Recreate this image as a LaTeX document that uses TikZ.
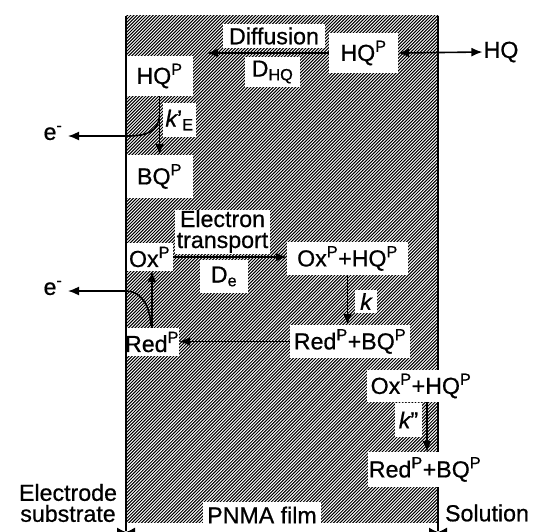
\documentclass[tikz,border=0pt]{standalone}
\usepackage{fontspec}
\setmainfont[FakeBold=0.7]{Liberation Sans}
\usetikzlibrary{arrows.meta}
\newcommand\dfont{\fontsize{23.2}{21}\selectfont}
\tikzset{
  wb/.style={fill=white, inner sep=0pt, align=center, font=\dfont},
  lbl/.style={inner sep=1pt, align=center, font=\dfont},
  arr/.style={line width=1.6pt, -{Latex[length=11pt,width=9pt]}},
  arrtwo/.style={line width=1.6pt, {Latex[length=11pt,width=9pt]}-{Latex[length=11pt,width=9pt]}},
  hatchline/.style={line width=1.0pt, black},
  edgeline/.style={line width=1.6pt, black},
  dimarrow/.style={line width=1pt, -{Latex[length=9pt,width=9pt]}},
  dimarrowtwo/.style={line width=1pt, {Latex[length=9pt,width=9pt]}-{Latex[length=9pt,width=9pt]}},
  dimarrowrev/.style={line width=1pt, {Latex[length=9pt,width=9pt]}-},
}
\begin{document}
\begin{tikzpicture}[x=1pt,y=-1pt]
\useasboundingbox (0,0) rectangle (539,531);
% hatched film
\begin{scope}
  \clip (126,15.5) rectangle (438,522);
  \foreach \i in {0,...,264} \draw[hatchline] ({-400+3.2*\i},530) -- ++(540,-540);
\end{scope}
% right edge of the film (hidden behind boxes that overlap it)
\draw[edgeline] (438,15.5) -- (438,531);

% white boxes
\node[wb, minimum width=102pt, minimum height=24pt] (diff) at (274,36) {Diffusion};
\node[wb, minimum width=55pt, minimum height=30pt] (dhq) at (272.5,72) {D\textsubscript{HQ}};
\node[wb, minimum width=69pt, minimum height=40pt] (hqR) at (363.5,53) {HQ\textsuperscript{P}};
\node[lbl] (hqS) at (501,52) {HQ};
\node[wb, minimum width=67pt, minimum height=40pt] (hqL) at (159.5,76) {HQ\textsuperscript{P}};
\node[wb, minimum width=33pt, minimum height=34pt] (kE) at (179.5,120) {{\itshape k}'\textsubscript{E}};
\node[wb, minimum width=67pt, minimum height=43pt] (bqL) at (159.5,176.5) {BQ\textsuperscript{P}};
\node[lbl] (e1) at (53,133) {e\textsuperscript{-}};

\node[wb, minimum width=95pt, minimum height=44pt] (etr) at (222.5,231.5) {Electron\\transport};
\node[wb, minimum width=47pt, minimum height=28pt] (oxL) at (149.5,257) {Ox\textsuperscript{P}};
\node[wb, minimum width=121pt, minimum height=33pt] (oxHQ) at (347.5,258.5) {Ox\textsuperscript{P}+HQ\textsuperscript{P}};
\node[wb, minimum width=48pt, minimum height=33pt] (de) at (224,276.5) {D\textsubscript{e}};
\node[wb, minimum width=22pt, minimum height=23pt] (k) at (366,301.5) {\itshape k};
\node[wb, minimum width=120pt, minimum height=33pt] (redBQ) at (350,341.5) {Red\textsuperscript{P}+BQ\textsuperscript{P}};
\node[wb, minimum width=52pt, minimum height=28pt] (redL) at (152,342) {Red\textsuperscript{P}};
\node[lbl] (e2) at (53,288) {e\textsuperscript{-}};

\node[wb, minimum width=108pt, minimum height=32pt] (oxHQb) at (421,386) {Ox\textsuperscript{P}+HQ\textsuperscript{P}};
\node[wb, minimum width=27pt, minimum height=34pt] (kk) at (408.5,420) {{\itshape k}"};
\node[wb, minimum width=114pt, minimum height=35pt] (redBQb) at (425,469.5) {Red\textsuperscript{P}+BQ\textsuperscript{P}};

\node[wb, minimum width=118pt, minimum height=29pt] (pnma) at (262,516.5) {\raisebox{3pt}{PNMA film}};
\node[lbl] (elec) at (68,503) {Electrode\\substrate};
\node[lbl] (sol) at (487,513) {Solution};

% left edge of the film (drawn over boxes)
\draw[edgeline] (126,15.5) -- (126,531);

% connectors
\coordinate (dEnd) at (207,53);
\draw[arr] (hqR.west) -- (dEnd);
\draw[arrtwo] (hqR.east) -- (hqS.west);
\draw[arr] (hqL.south) -- (bqL.north);
\coordinate (c1) at (159.5,116);
\coordinate (e1tip) at (68,136);
\draw[arr] (c1) .. controls (158,131) and (148,136) .. (127,136) -- (e1tip);

\draw[arr] (oxL.east) -- (oxL.east -| oxHQ.west);
\draw[arr] (oxHQ.south) -- (oxHQ.south |- redBQ.north);
\draw[arr] (redBQ.west) -- (redBQ.west -| redL.east);
\draw[arr] (redL.north) -- (redL.north |- oxL.south);
\coordinate (c2) at (151,326);
\coordinate (e2tip) at (68,291);
\draw[arr] (c2) .. controls (150,304) and (140,291) .. (126,291) -- (e2tip);

\coordinate (kka) at (427,402);
\coordinate (kkb) at (427,452);
\draw[arr] (kka) -- (kkb);

% dimension arrows along the bottom (mostly cut off)
\coordinate (bL0) at (0,532);
\coordinate (bL1) at (126,532);
\coordinate (bR1) at (438,532);
\coordinate (bR0) at (539,532);
\draw[dimarrow] (bL0) -- (bL1);
\draw[dimarrowtwo] (bL1) -- (bR1);
\draw[dimarrowrev] (bR1) -- (bR0);
\end{tikzpicture}
\end{document}
